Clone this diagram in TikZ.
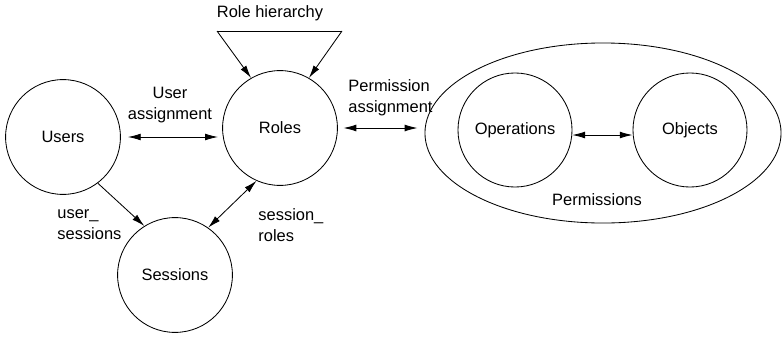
\documentclass[tikz,border=0pt]{standalone}
\usepackage{fontspec}
\setmainfont{Liberation Sans}
\usetikzlibrary{shapes.geometric,arrows.meta}

\begin{document}
\begin{tikzpicture}[x=0.025cm,y=-0.025cm,
		font=\fontsize{11.7}{14.9}\selectfont,
		>={Latex[length=3.2mm,width=1.7mm]},
		every path/.style={line width=0.6pt},
		ent/.style={draw,circle,minimum size=2.87cm,inner sep=0pt},
		lbl/.style={align=left,inner sep=0pt}]
	\useasboundingbox (0,0) rectangle (783,336);
	% main entities
	\node[ent] (users) at (63,137) {Users};
	\node[ent] (roles) at (280,128) {Roles};
	\node[ent] (sessions) at (175,275) {Sessions};
	\node[draw,ellipse,minimum width=8.9cm,minimum height=4.5cm,inner sep=0pt] (perms) at (603,133) {};
	\node[ent,minimum size=2.85cm] (ops) at (515,130) {Operations};
	\node[ent,minimum size=2.85cm] (objs) at (690,130) {Objects};
	% role hierarchy
	\coordinate (hl) at (217,31);
	\coordinate (hr) at (342,31);
	\node (hier) at (270,13) {Role hierarchy};
	\draw (hl) -- (hr);
	\draw[->] (hl) -- (roles.120);
	\draw[->] (hr) -- (roles.60);
	% assignments
	\draw[<->,shorten <=5pt,shorten >=3pt] (users.east) -- (users.east -| roles.west);
	\node[align=center,inner sep=0pt] (ua) at (170,105) {User\\assignment};
	\draw[<->,shorten <=4pt,shorten >=5pt] (roles.east) -- (roles.east -| perms.west);
	\node[lbl,anchor=west] (pa) at (348,98) {Permission\\assignment};
	\draw[->] (users.-53) -- (sessions.122);
	\node[lbl,anchor=west] (us) at (57,225) {user\_\\sessions};
	\draw[<->] (sessions.55) -- (roles.-114);
	\node[lbl,anchor=west] (sr) at (258,225) {session\_\\roles};
	\draw[<->] (ops.-5) -- (ops.-5 -| objs.west);
	\node (permlbl) at (597,200) {Permissions};
\end{tikzpicture}
\end{document}
